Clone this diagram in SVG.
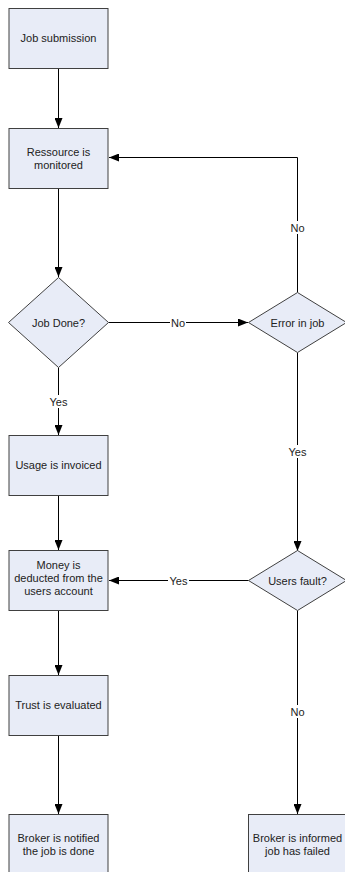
<svg xmlns="http://www.w3.org/2000/svg" width="345" height="872" viewBox="0 0 345 872">
  <defs>
    <marker id="arrow" viewBox="0 0 10 8" refX="10" refY="4" markerWidth="10" markerHeight="8" markerUnits="userSpaceOnUse" orient="auto">
      <path d="M0,0 L10,4 L0,8 Z" fill="#000"/>
    </marker>
  </defs>
  <style>
    .shape { fill: #e8ecf7; stroke: #404040; stroke-width: 1; }
    .label { font-family: "Liberation Sans", Arial, sans-serif; font-size: 11px; fill: #222; text-anchor: middle; }
    .edge { fill: none; stroke: #000; stroke-width: 1; }
    .edge-label { font-family: "Liberation Sans", Arial, sans-serif; font-size: 11px; fill: #222; text-anchor: middle; }
    .lbl-bg { fill: #fff; }
  </style>
  <rect width="345" height="872" fill="#fff"/>

  <!-- connectors -->
  <g id="connectors">
    <path class="edge" d="M58.5,68.5 V128" marker-end="url(#arrow)"/>
    <path class="edge" d="M58.5,188.5 V277" marker-end="url(#arrow)"/>
    <path class="edge" d="M108.5,322.5 H248" marker-end="url(#arrow)"/>
    <path class="edge" d="M297.5,292.5 V157.5 H109" marker-end="url(#arrow)"/>
    <path class="edge" d="M58.5,367.5 V435" marker-end="url(#arrow)"/>
    <path class="edge" d="M58.5,495.5 V550" marker-end="url(#arrow)"/>
    <path class="edge" d="M297.5,352.5 V551" marker-end="url(#arrow)"/>
    <path class="edge" d="M248.5,580.5 H109" marker-end="url(#arrow)"/>
    <path class="edge" d="M58.5,610.5 V675" marker-end="url(#arrow)"/>
    <path class="edge" d="M58.5,735.5 V814" marker-end="url(#arrow)"/>
    <path class="edge" d="M297.5,610.5 V814" marker-end="url(#arrow)"/>

    <rect class="lbl-bg" x="170" y="316" width="16" height="13"/>
    <text class="edge-label" x="178" y="326.5">No</text>
    <rect class="lbl-bg" x="289" y="221" width="17" height="13"/>
    <text class="edge-label" x="297.5" y="231.5">No</text>
    <rect class="lbl-bg" x="48" y="395" width="21" height="13"/>
    <text class="edge-label" x="58.5" y="405.5">Yes</text>
    <rect class="lbl-bg" x="287" y="445" width="21" height="13"/>
    <text class="edge-label" x="297.5" y="455.5">Yes</text>
    <rect class="lbl-bg" x="168" y="574" width="21" height="13"/>
    <text class="edge-label" x="178.5" y="584.5">Yes</text>
    <rect class="lbl-bg" x="289" y="705" width="17" height="13"/>
    <text class="edge-label" x="297.5" y="715.5">No</text>
  </g>

  <g id="job-submission">
    <rect class="shape" x="9" y="8.5" width="99" height="60"/>
    <text class="label" x="58.5" y="42">Job submission</text>
  </g>

  <g id="resource-monitored">
    <rect class="shape" x="9" y="128.5" width="99" height="60"/>
    <text class="label" x="58.5" y="155.5">Ressource is</text>
    <text class="label" x="58.5" y="168.5">monitored</text>
  </g>

  <g id="job-done">
    <polygon class="shape" points="58.5,277.5 108.5,322.5 58.5,367.5 8.5,322.5"/>
    <text class="label" x="58.5" y="326.5">Job Done?</text>
  </g>

  <g id="error-in-job">
    <polygon class="shape" points="297.5,292.5 346.5,322.5 297.5,352.5 248.5,322.5"/>
    <text class="label" x="297.5" y="326.5">Error in job</text>
  </g>

  <g id="usage-invoiced">
    <rect class="shape" x="9" y="435.5" width="99" height="60"/>
    <text class="label" x="58.5" y="469">Usage is invoiced</text>
  </g>

  <g id="money-deducted">
    <rect class="shape" x="9" y="550.5" width="99" height="60"/>
    <text class="label" x="58.5" y="569">Money is</text>
    <text class="label" x="58.5" y="582">deducted from the</text>
    <text class="label" x="58.5" y="595">users account</text>
  </g>

  <g id="users-fault">
    <polygon class="shape" points="297.5,550.5 346.5,580.5 297.5,610.5 248.5,580.5"/>
    <text class="label" x="297.5" y="584.5">Users fault?</text>
  </g>

  <g id="trust-evaluated">
    <rect class="shape" x="9" y="675.5" width="99" height="60"/>
    <text class="label" x="58.5" y="709">Trust is evaluated</text>
  </g>

  <g id="broker-notified">
    <rect class="shape" x="9" y="814.5" width="99" height="60"/>
    <text class="label" x="58.5" y="841.5">Broker is notified</text>
    <text class="label" x="58.5" y="854.5">the job is done</text>
  </g>

  <g id="broker-informed">
    <rect class="shape" x="248.5" y="814.5" width="99" height="60"/>
    <text class="label" x="297.5" y="841.5">Broker is informed</text>
    <text class="label" x="297.5" y="854.5">job has failed</text>
  </g>
</svg>
